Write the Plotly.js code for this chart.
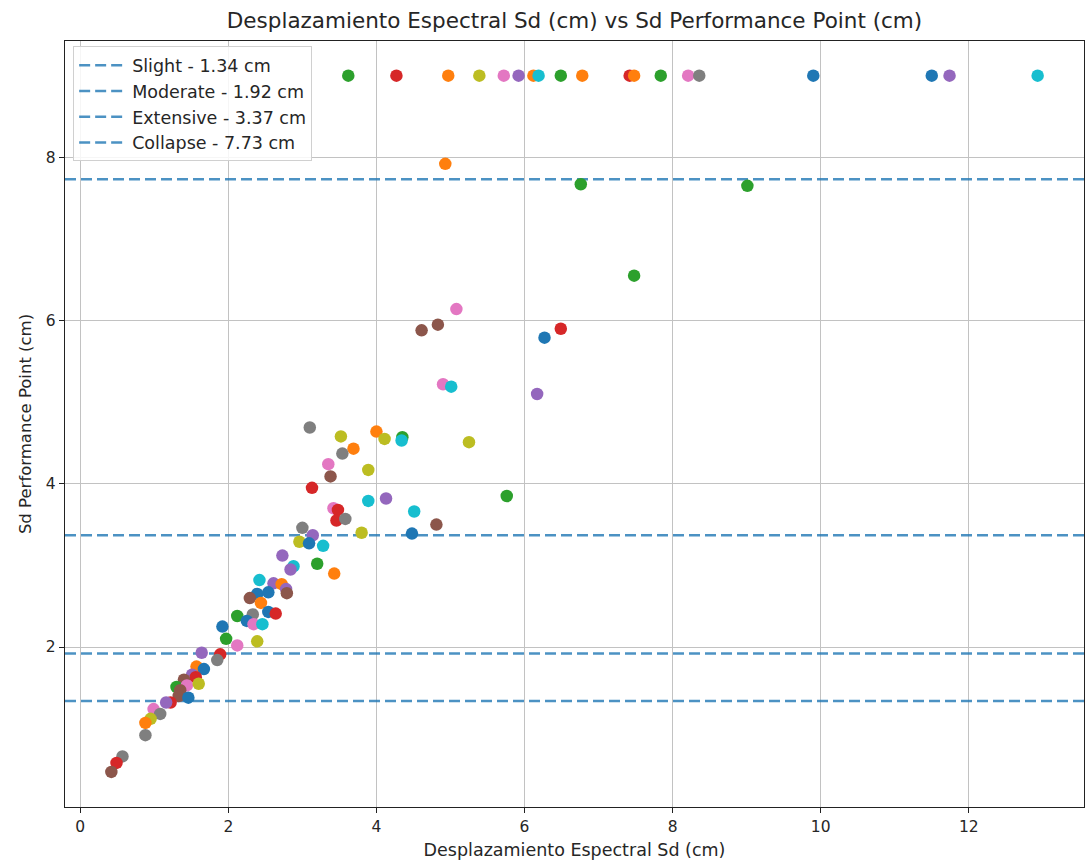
<!DOCTYPE html>
<html>
<head>
<meta charset="utf-8">
<script src="https://cdn.plot.ly/plotly-3.0.1.min.js"></script>
<style>
  html, body { margin: 0; padding: 0; background: #ffffff; }
  #chart { width: 1086px; height: 861px; }
</style>
</head>
<body>
<div id="chart"></div>
<script>
// ---- Data ----
const sdSpectral = [
  // top row (capped)
  3.62, 4.27, 4.97, 5.39, 5.72, 5.92, 6.12, 6.19, 6.49, 6.78, 7.42, 7.48, 7.84, 8.21, 8.36, 9.90, 11.50, 11.74, 12.93,
  // upper
  4.93, 6.76, 9.01, 7.48, 5.08, 4.83, 4.61, 6.49, 6.27, 4.90, 5.01, 6.17,
  // middle
  3.10, 3.52, 4.00, 4.11, 4.35, 4.34, 5.25, 3.69, 3.54, 3.35, 3.89, 3.38, 3.13, 3.89, 4.13, 5.76, 4.51, 4.81, 4.48,
  3.42, 3.48, 3.46, 3.58, 3.00, 3.14, 3.80, 2.96, 3.09, 3.28, 2.73, 2.88, 2.84, 3.20, 3.43,
  // lower
  2.42, 2.61, 2.72, 2.78, 2.79, 2.39, 2.54, 2.29, 2.44, 2.33, 2.54, 2.64, 2.12, 2.25, 2.34, 2.46, 1.92, 1.97, 2.12, 2.39,
  1.64, 1.89, 1.85, 1.57, 1.67, 1.51, 1.56, 1.40, 1.30, 1.44, 1.60, 1.35, 1.33, 1.46, 1.22, 1.16, 0.99, 1.08, 0.95, 0.88,
  0.88, 0.57, 0.49, 0.42
];
const sdPerformancePoint = [
  9.0, 9.0, 9.0, 9.0, 9.0, 9.0, 9.0, 9.0, 9.0, 9.0, 9.0, 9.0, 9.0, 9.0, 9.0, 9.0, 9.0, 9.0, 9.0,
  7.92, 7.67, 7.65, 6.55, 6.14, 5.95, 5.88, 5.90, 5.79, 5.22, 5.19, 5.10,
  4.69, 4.58, 4.64, 4.55, 4.57, 4.53, 4.51, 4.43, 4.37, 4.24, 4.17, 4.09, 3.95, 3.79, 3.82, 3.85, 3.66, 3.50, 3.39,
  3.70, 3.68, 3.55, 3.57, 3.46, 3.37, 3.40, 3.29, 3.27, 3.24, 3.12, 2.99, 2.95, 3.02, 2.90,
  2.82, 2.78, 2.77, 2.71, 2.66, 2.65, 2.67, 2.60, 2.54, 2.40, 2.43, 2.41, 2.38, 2.32, 2.28, 2.28, 2.25, 2.10, 2.02, 2.07,
  1.93, 1.91, 1.84, 1.76, 1.73, 1.66, 1.63, 1.60, 1.51, 1.53, 1.55, 1.47, 1.40, 1.38, 1.32, 1.32, 1.24, 1.18, 1.12, 1.07,
  0.92, 0.66, 0.58, 0.47
];
const pointColor = [
  'green', 'red', 'orange', 'olive', 'pink', 'purple', 'orange', 'cyan', 'green', 'orange', 'red', 'orange', 'green', 'pink', 'gray', 'blue', 'blue', 'purple', 'cyan',
  'orange', 'green', 'green', 'green', 'pink', 'brown', 'brown', 'red', 'blue', 'pink', 'cyan', 'purple',
  'gray', 'olive', 'orange', 'olive', 'green', 'cyan', 'olive', 'orange', 'gray', 'pink', 'olive', 'brown', 'red', 'cyan', 'purple', 'green', 'cyan', 'brown', 'blue',
  'pink', 'red', 'red', 'gray', 'gray', 'purple', 'olive', 'olive', 'blue', 'cyan', 'purple', 'cyan', 'purple', 'green', 'orange',
  'cyan', 'purple', 'orange', 'purple', 'brown', 'blue', 'blue', 'brown', 'orange', 'gray', 'blue', 'red', 'green', 'blue', 'pink', 'cyan', 'blue', 'green', 'pink', 'olive',
  'purple', 'red', 'gray', 'orange', 'blue', 'purple', 'red', 'brown', 'green', 'pink', 'olive', 'brown', 'brown', 'blue', 'red', 'purple', 'pink', 'gray', 'olive', 'orange',
  'gray', 'gray', 'red', 'brown'
];
const thresholdNames = ['Slight', 'Moderate', 'Extensive', 'Collapse'];
const thresholdValues = [1.34, 1.92, 3.37, 7.73];

const titleText = 'Desplazamiento Espectral Sd (cm) vs Sd Performance Point (cm)';
const xTitle = 'Desplazamiento Espectral Sd (cm)';
const yTitle = 'Sd Performance Point (cm)';
const xTicks = [0, 2, 4, 6, 8, 10, 12];
const yTicks = [2, 4, 6, 8];

// ---- Styling ----
const palette = {
  blue: '#1f77b4', orange: '#ff7f0e', green: '#2ca02c', red: '#d62728', purple: '#9467bd',
  brown: '#8c564b', pink: '#e377c2', gray: '#7f7f7f', olive: '#bcbd22', cyan: '#17becf'
};
const xRange = [-0.206, 13.556];
const yRange = [0.040, 9.425];
const FONT = '"DejaVu Sans", Verdana, sans-serif';

const traces = [];
thresholdNames.forEach((name, i) => {
  traces.push({
    type: 'scatter', mode: 'lines',
    x: [xRange[0], xRange[1]],
    y: [thresholdValues[i], thresholdValues[i]],
    name: name + ' - ' + thresholdValues[i].toFixed(2) + ' cm',
    line: { color: 'rgba(31,119,180,0.8)', width: 2.5, dash: '11px,5px' },
    hoverinfo: 'skip'
  });
});
traces.push({
  type: 'scatter', mode: 'markers',
  x: sdSpectral, y: sdPerformancePoint,
  marker: { size: 12.5, color: pointColor.map(c => palette[c]), line: { width: 0 } },
  showlegend: false, hoverinfo: 'skip'
});

const axisCommon = {
  showline: true, mirror: true, linecolor: '#222', linewidth: 1.2,
  ticks: 'outside', ticklen: 5, tickwidth: 1, tickcolor: '#222',
  showgrid: true, gridcolor: '#c2c2c2', gridwidth: 1,
  zeroline: false,
  tickfont: { family: FONT, size: 15.5, color: '#262626' }
};

const layout = {
  width: 1086, height: 861,
  paper_bgcolor: '#ffffff', plot_bgcolor: '#ffffff',
  margin: { l: 65, r: 2, t: 41, b: 54 },
  title: {
    text: titleText,
    font: { family: FONT, size: 21.5, color: '#262626' },
    x: 0.5, xref: 'paper', xanchor: 'center',
    y: 1 - 20 / 861, yref: 'container', yanchor: 'middle'
  },
  xaxis: Object.assign({}, axisCommon, {
    range: xRange, tickvals: xTicks, ticktext: xTicks.map(String),
    title: { text: xTitle, font: { family: FONT, size: 17.5, color: '#262626' }, standoff: 9 }
  }),
  yaxis: Object.assign({}, axisCommon, {
    range: yRange, tickvals: yTicks, ticktext: yTicks.map(String),
    title: { text: yTitle, font: { family: FONT, size: 16.5, color: '#262626' }, standoff: 10 }
  }),
  legend: {
    x: 0.008, y: 0.993, xanchor: 'left', yanchor: 'top',
    bgcolor: 'rgba(255,255,255,0.85)', bordercolor: '#d0d0d0', borderwidth: 1,
    font: { family: FONT, size: 17.5, color: '#262626' },
    itemwidth: 48
  },
  showlegend: true
};

Plotly.newPlot('chart', traces, layout, { staticPlot: true, displayModeBar: false });
</script>
</body>
</html>
